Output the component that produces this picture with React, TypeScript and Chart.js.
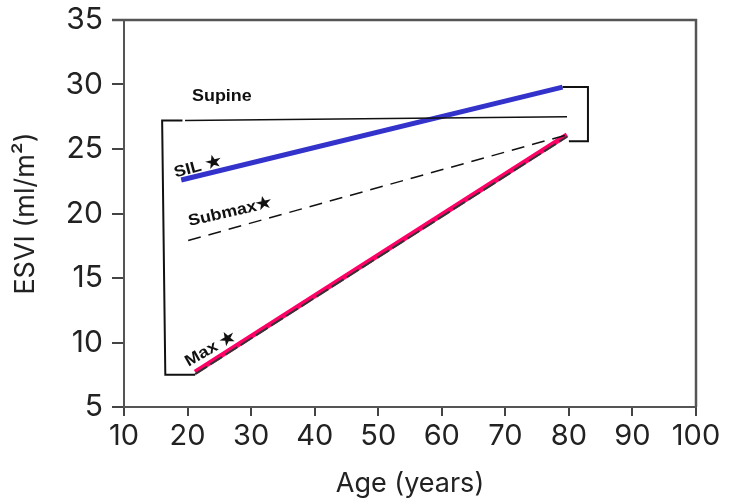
import React, { useEffect, useRef } from "react";
import { Chart, registerables } from "chart.js";

Chart.register(...registerables);

// Axis ranges / ticks
const xTicks = [10, 20, 30, 40, 50, 60, 70, 80, 90, 100];
const yTicks = [5, 10, 15, 20, 25, 30, 35];

// Series (age, ESVI)
const supineX = [19.6, 79.7];
const supineY = [27.2, 27.5];
const silX = [19.0, 79.0];
const silY = [22.6, 29.8];
const submaxX = [20.1, 79.7];
const submaxY = [17.9, 26.1];
const maxX = [21.2, 79.7];
const maxY = [7.7, 26.1];
const maxShadowY = [7.55, 25.95];

// Brackets joining the ranges
const leftBracketX = [19.2, 16.0, 16.5, 21.2];
const leftBracketY = [27.2, 27.2, 7.5, 7.5];
const rightBracketX = [79.0, 83.0, 83.0, 80.0];
const rightBracketY = [29.8, 29.8, 25.6, 25.6];

// In-plot labels
const labelTexts = ["Supine", "SIL \u2605", "Submax\u2605", "Max \u2605"];
const labelX = [25.4, 21.6, 26.7, 23.6];
const labelY = [29.1, 23.6, 20.1, 9.5];
const labelRot = [0, -15, -13, -30];

const pts = (xs: number[], ys: number[]) => xs.map((x, i) => ({ x, y: ys[i] }));

const FONT = "Inter, 'Liberation Sans', Arial, sans-serif";

const framePlugin = {
  id: "frame",
  afterDraw(chart: any) {
    const { ctx, chartArea } = chart;
    ctx.save();
    ctx.strokeStyle = "#555";
    ctx.lineWidth = 2.5;
    ctx.beginPath();
    ctx.moveTo(chartArea.left - 12, chartArea.top);
    ctx.lineTo(chartArea.right, chartArea.top);
    ctx.lineTo(chartArea.right, chartArea.bottom);
    ctx.stroke();
    ctx.restore();
  },
};

const labelPlugin = {
  id: "plotLabels",
  beforeDatasetsDraw(chart: any) {
    const { ctx } = chart;
    const xs = chart.scales.x;
    const ys = chart.scales.y;
    ctx.save();
    ctx.fillStyle = "#111";
    ctx.font = "bold 16px 'Liberation Sans', Arial, sans-serif";
    ctx.textAlign = "center";
    ctx.textBaseline = "middle";
    labelTexts.forEach((t, i) => {
      const px = xs.getPixelForValue(labelX[i]);
      const py = ys.getPixelForValue(labelY[i]);
      ctx.save();
      ctx.translate(px, py);
      ctx.rotate((labelRot[i] * Math.PI) / 180);
      ctx.scale(1.12, 1);
      ctx.fillText(t, 0, 0);
      ctx.restore();
    });
    ctx.restore();
  },
};

export default function App() {
  const ref = useRef<HTMLCanvasElement>(null);
  useEffect(() => {
    document.body.style.margin = "0";
    const base = {
      showLine: true,
      pointRadius: 0,
      pointHoverRadius: 0,
      fill: false,
      tension: 0,
    };
    const chart = new Chart(ref.current!, {
      type: "scatter",
      data: {
        datasets: [
          { ...base, data: pts(leftBracketX, leftBracketY), borderColor: "#111", borderWidth: 2 },
          { ...base, data: pts(rightBracketX, rightBracketY), borderColor: "#111", borderWidth: 2 },
          { ...base, data: pts(supineX, supineY), borderColor: "#111", borderWidth: 1.5 },
          { ...base, data: pts(submaxX, submaxY), borderColor: "#111", borderWidth: 1.5, borderDash: [13, 8] },
          { ...base, data: pts(maxX, maxShadowY), borderColor: "#333", borderWidth: 2, borderDash: [14, 4] },
          { ...base, data: pts(maxX, maxY), borderColor: "#ff0066", borderWidth: 5 },
          { ...base, data: pts(silX, silY), borderColor: "#3333cc", borderWidth: 5 },
        ] as any,
      },
      options: {
        animation: false,
        responsive: true,
        maintainAspectRatio: false,
        layout: { padding: { top: 20, right: 33, left: 0, bottom: 0 } },
        plugins: { legend: { display: false }, tooltip: { enabled: false } },
        scales: {
          x: {
            type: "linear",
            min: 10,
            max: 100,
            afterBuildTicks: (s: any) => {
              s.ticks = xTicks.map((v) => ({ value: v }));
            },
            afterFit: (s: any) => {
              s.height = 93;
              s.paddingLeft = 0;
              s.paddingRight = 0;
            },
            ticks: { color: "#222", font: { family: FONT, size: 29 }, padding: 3, maxRotation: 0 },
            grid: { drawOnChartArea: false, drawTicks: true, tickLength: 9, color: "#444", lineWidth: 2 },
            border: { display: true, color: "#555", width: 2 },
            title: {
              display: true,
              text: "Age (years)",
              color: "#222",
              font: { family: FONT, size: 27 },
              padding: { top: 0, bottom: 0 },
            },
          },
          y: {
            type: "linear",
            min: 5,
            max: 35,
            afterBuildTicks: (s: any) => {
              s.ticks = yTicks.map((v) => ({ value: v }));
            },
            afterFit: (s: any) => {
              s.width = 124;
              s.paddingTop = 0;
              s.paddingBottom = 0;
            },
            ticks: { color: "#222", font: { family: FONT, size: 30 }, padding: 9 },
            grid: { drawOnChartArea: false, drawTicks: true, tickLength: 12, color: "#444", lineWidth: 2 },
            border: { display: true, color: "#555", width: 2 },
            title: {
              display: true,
              text: "ESVI (ml/m\u00b2)",
              color: "#222",
              font: { family: FONT, size: 27 },
              padding: { top: 10, bottom: 0 },
            },
          },
        },
      },
      plugins: [framePlugin, labelPlugin],
    });
    return () => chart.destroy();
  }, []);
  return (
    <div style={{ position: "absolute", left: 0, top: 0, width: 729, height: 500 }}>
      <canvas ref={ref} />
    </div>
  );
}
